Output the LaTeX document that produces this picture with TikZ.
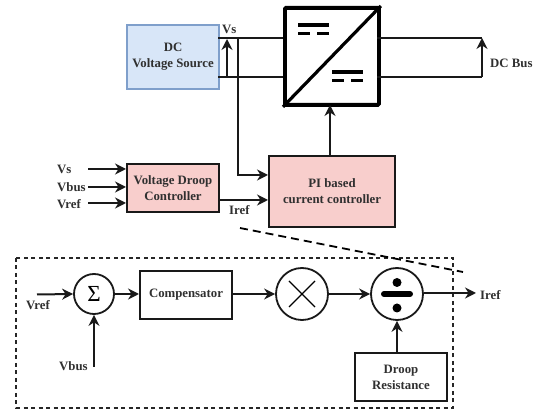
\documentclass[tikz,border=0pt]{standalone}
\usepackage{fontspec}
\setmainfont{Liberation Serif}
\usetikzlibrary{arrows.meta}
\definecolor{srcfill}{HTML}{D8E6F8}
\definecolor{srcline}{HTML}{7F9FCB}
\definecolor{ctlfill}{HTML}{F8CECC}
\definecolor{txt}{HTML}{303030}
\tikzset{
  x=1pt,y=-1pt,
  wire/.style={line width=2pt,draw=black!90},
  arr/.style={wire,-{Stealth[length=11pt,width=11pt]}},
  blk/.style={draw=black!90,line width=2pt,inner sep=0pt,anchor=north west,align=center,font=\fontsize{12.8}{16}\selectfont\bfseries,text=txt},
  lbl/.style={inner sep=0pt,font=\fontsize{12.8}{15}\selectfont\bfseries,text=txt},
  circ/.style={circle,draw=black!90,line width=1.8pt,inner sep=0pt,fill=white},
  plate/.style={fill=black,draw=none},
}
\begin{document}
\begin{tikzpicture}
\useasboundingbox (0,0) rectangle (536,411);
% top blocks
\node[blk,draw=srcline,fill=srcfill,line width=2.2pt,minimum width=92pt,minimum height=64pt] (src) at (126,24) {DC\\Voltage Source};
\node[blk,draw=black,fill=white,line width=3.8pt,minimum width=94pt,minimum height=97pt,rounded corners=1pt] (conv) at (283,6) {};
\node[blk,fill=ctlfill,minimum width=126pt,minimum height=71pt] (pi) at (268,155) {PI based\\current controller};
\node[blk,fill=ctlfill,minimum width=92pt,minimum height=48pt] (vdc) at (126,163) {Voltage Droop\\Controller};
% converter symbol
\draw[line width=3.2pt] (conv.south west) -- (conv.north east);
\fill[plate] (298,23.5) rectangle (329,27);
\fill[plate] (298,32) rectangle (310,35.5);
\fill[plate] (317,32) rectangle (329,35.5);
\fill[plate] (332,70.5) rectangle (363,74);
\fill[plate] (332,79) rectangle (344,82.5);
\fill[plate] (351,79) rectangle (363,82.5);
% source - converter
\coordinate (st) at (218,38);
\coordinate (sb) at (218,77);
\coordinate (ct) at (283,38);
\coordinate (cb) at (283,77);
\draw[wire] (st) -- (ct);
\draw[wire] (sb) -- (cb);
\coordinate (vb) at (227,77);
\coordinate (vt) at (227,39);
\draw[arr] (vb) -- (vt);
\coordinate (tap) at (238,38);
\coordinate (pin1) at (268,175);
\draw[arr] (tap) |- (pin1);
\node[lbl,anchor=west] (vsl) at (222,29) {Vs};
% DC bus
\coordinate (ot) at (377,38);
\coordinate (ob) at (377,77);
\coordinate (bt) at (482,38);
\coordinate (bb) at (482,77);
\draw[wire] (ot) -- (bt);
\draw[wire] (ob) -- (bb);
\draw[arr] (bb) -- (bt);
\node[lbl,anchor=west] (busl) at (490,63) {DC Bus};
% PI to converter
\coordinate (pit) at (330,155);
\coordinate (cin) at (330,105);
\draw[arr] (pit) -- (cin);
% droop controller
\node[lbl,anchor=west] (i1) at (57,169) {Vs};
\node[lbl,anchor=west] (i2) at (57,187) {Vbus};
\node[lbl,anchor=west] (i3) at (57,204) {Vref};
\coordinate (a1) at (88,169);
\coordinate (a2) at (88,187);
\coordinate (a3) at (88,203);
\coordinate (b1) at (126,169);
\coordinate (b2) at (126,187);
\coordinate (b3) at (126,203);
\draw[arr] (a1) -- (b1);
\draw[arr] (a2) -- (b2);
\draw[arr] (a3) -- (b3);
\coordinate (vo) at (218,200);
\coordinate (pin2) at (268,200);
\draw[arr] (vo) -- (pin2);
\node[lbl,anchor=west] (irefa) at (229,210) {Iref};
% detail frame
\draw[line width=1.3pt,dash pattern=on 4pt off 3.5pt,draw=black!85] (16,258) rectangle (453,408);
\coordinate (z1) at (240,228);
\coordinate (z2) at (463,272);
\draw[line width=1.8pt,dash pattern=on 8pt off 5pt] (z1) -- (z2);
% detail blocks
\node[circ,minimum size=40pt,font=\fontsize{23}{23}\selectfont] (sum) at (94,294) {Σ};
\node[blk,minimum width=92pt,minimum height=48pt] (comp) at (139,270) {Compensator};
\node[circ,minimum size=52pt] (mul) at (302,294) {};
\draw[line width=1.4pt] (289,281) -- (315,307) (315,281) -- (289,307);
\node[circ,minimum size=52pt] (dv) at (397,294) {};
\draw[line width=6pt,line cap=round] (384,294) -- (410,294);
\fill (397,282.5) circle (4.5pt);
\fill (397,308) circle (4.5pt);
\node[blk,minimum width=92pt,minimum height=48pt] (droop) at (354,352) {Droop\\Resistance};
% detail wiring
\coordinate (vr) at (37,294.5);
\draw[arr] (vr) -- (sum.west);
\node[lbl,anchor=west] (vrl) at (26,305) {Vref};
\coordinate (vbs) at (94,367);
\draw[arr] (vbs) -- (sum.south);
\node[lbl,anchor=west] (vbl) at (59,366) {Vbus};
\draw[arr] (sum.east) -- (comp.west |- sum.east);
\draw[arr] (comp.east |- mul.west) -- (mul.west);
\draw[arr] (mul.east) -- (dv.west);
\coordinate (iout) at (476,293);
\draw[arr] (dv.east |- iout) -- (iout);
\node[lbl,anchor=west] (irefb) at (480,295) {Iref};
\draw[arr] (droop.north -| dv.south) -- (dv.south);
\end{tikzpicture}
\end{document}
